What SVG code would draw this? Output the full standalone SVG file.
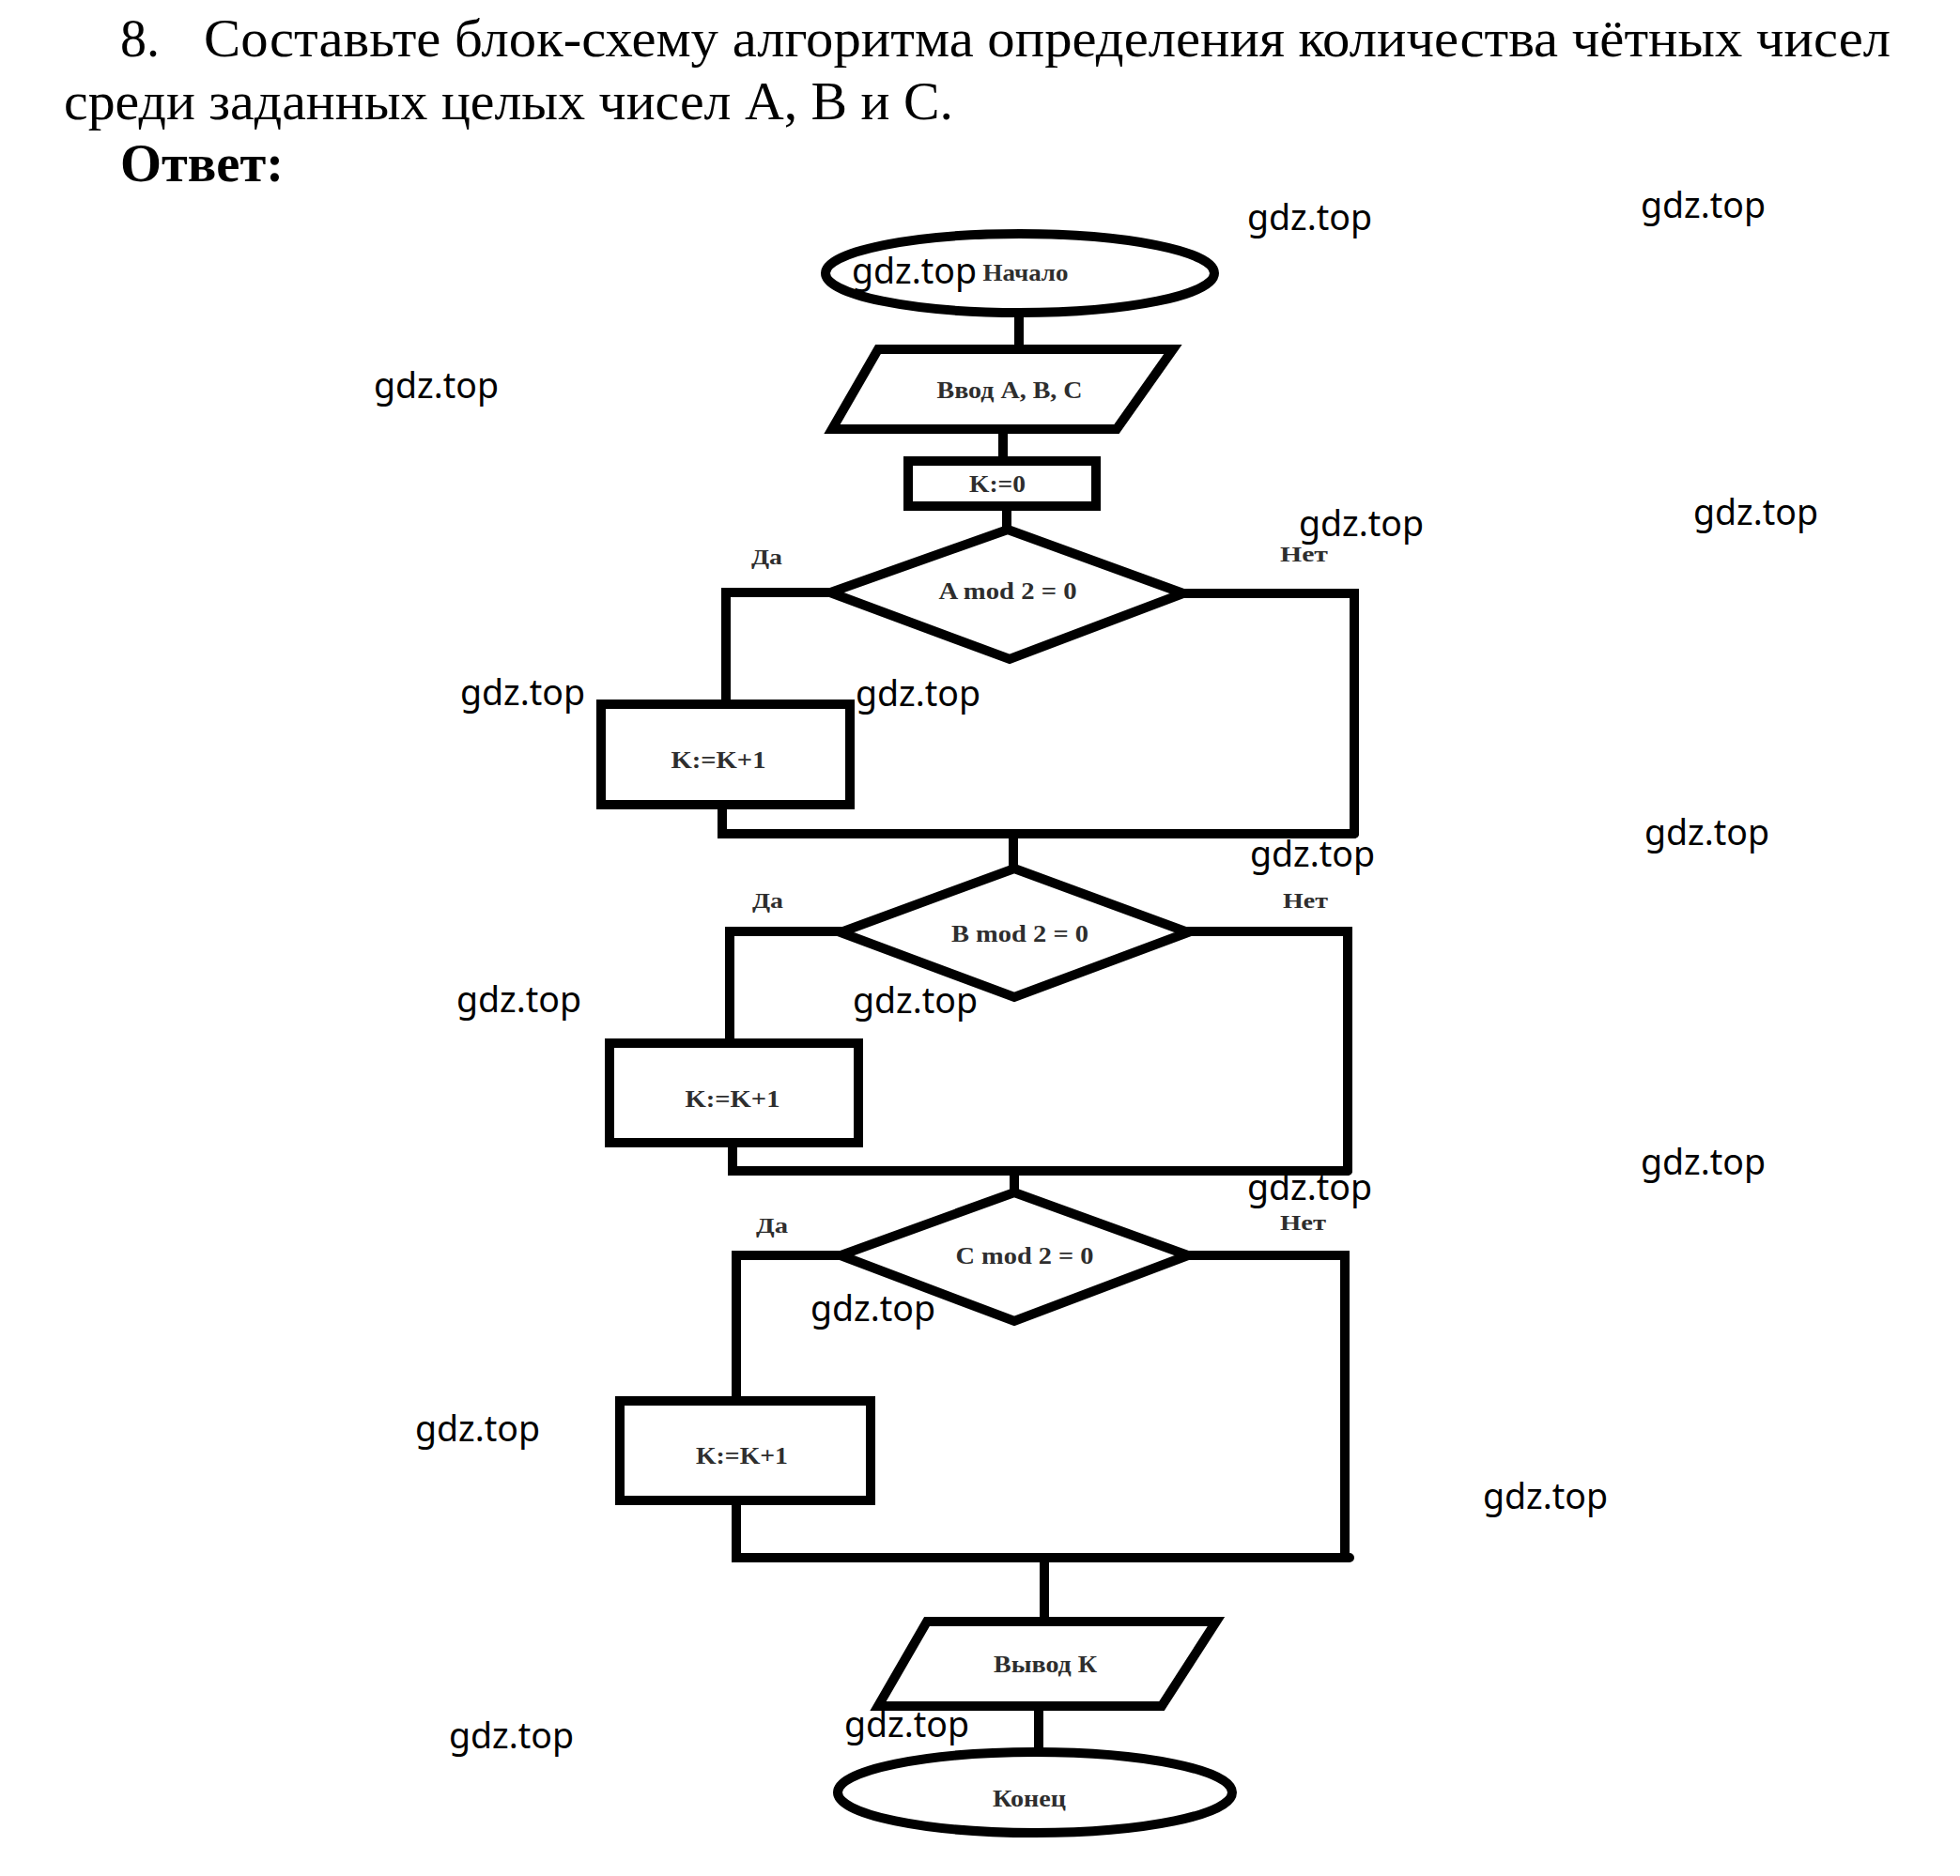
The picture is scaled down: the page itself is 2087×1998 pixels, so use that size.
<svg xmlns="http://www.w3.org/2000/svg" width="2087" height="1998" viewBox="0 0 2087 1998">
<style>
.bg{fill:#fff}
.title{font-family:"Liberation Serif","Times New Roman",serif;font-size:56px;fill:#000}
.titleb{font-family:"Liberation Serif","Times New Roman",serif;font-size:56px;font-weight:bold;fill:#000}
.shape{fill:none;stroke:#000;stroke-width:10;stroke-linejoin:miter}
.conn{fill:none;stroke:#000;stroke-width:10;stroke-linecap:round;stroke-linejoin:miter}
.lbl{font-family:"Liberation Serif","Times New Roman",serif;font-weight:bold;font-size:25px;fill:#2e2e2e;text-anchor:middle}
.yn{font-family:"Liberation Serif","Times New Roman",serif;font-weight:bold;font-size:23px;fill:#2e2e2e}
.wm{font-family:"Noto Sans","Open Sans",sans-serif;font-size:37.5px;fill:#000}
</style>
<rect class="bg" x="0" y="0" width="2087" height="1998"/>
<g id="heading">
<text class="title" x="128" y="60">8.</text>
<text class="title" x="217" y="60" textLength="1796" lengthAdjust="spacingAndGlyphs">Составьте блок-схему алгоритма определения количества чётных чисел</text>
<text class="title" x="68" y="127" textLength="947" lengthAdjust="spacingAndGlyphs">среди заданных целых чисел A, B и C.</text>
<text class="titleb" x="128" y="193" textLength="174" lengthAdjust="spacingAndGlyphs">Ответ:</text>
</g>
<g id="connectors">
<path class="conn" d="M1085 333 V371"/>
<path class="conn" d="M1068 457 V490"/>
<path class="conn" d="M1072 539 V564"/>
<path class="conn" d="M884 631 H773 V750"/>
<path class="conn" d="M769 857 V888 H1442"/>
<path class="conn" d="M1260 632 H1442 V888"/>
<path class="conn" d="M1079 888 V925"/>
<path class="conn" d="M895 992 H777 V1111"/>
<path class="conn" d="M780 1217 V1247 H1435"/>
<path class="conn" d="M1265 992 H1435 V1247"/>
<path class="conn" d="M1080 1247 V1270"/>
<path class="conn" d="M895 1337 H784 V1492"/>
<path class="conn" d="M784 1598 V1659 H1437"/>
<path class="conn" d="M1265 1337 H1432 V1659"/>
<path class="conn" d="M1112 1659 V1727"/>
<path class="conn" d="M1106 1817 V1863"/>
</g>
<g id="start">
<ellipse class="shape" cx="1086" cy="291" rx="207" ry="42"/>
<text class="lbl" x="1092" y="299" font-size="21" textLength="91" lengthAdjust="spacingAndGlyphs">Начало</text>
</g>
<g id="input">
<polygon class="shape" points="935,372 1249,372 1189,457 886,457"/>
<text class="lbl" x="1075" y="424" font-size="23" textLength="155" lengthAdjust="spacingAndGlyphs">Ввод A, B, C</text>
</g>
<g id="init">
<rect class="shape" x="967" y="491" width="200" height="48"/>
<text class="lbl" x="1062" y="524" font-size="23" textLength="60" lengthAdjust="spacingAndGlyphs">K:=0</text>
</g>
<g id="condA">
<polygon class="shape" points="1073,564 1260,632 1075,702 884,631"/>
<text class="lbl" x="1073" y="638" font-size="26" textLength="147" lengthAdjust="spacingAndGlyphs">A mod 2 = 0</text>
<text class="yn" x="800" y="601" textLength="33" lengthAdjust="spacingAndGlyphs">Да</text>
<text class="yn" x="1363" y="598" textLength="51" lengthAdjust="spacingAndGlyphs">Нет</text>
</g>
<g id="incA">
<rect class="shape" x="640" y="750" width="265" height="107"/>
<text class="lbl" x="765" y="818" textLength="101" lengthAdjust="spacingAndGlyphs">K:=K+1</text>
</g>
<g id="condB">
<polygon class="shape" points="1080,925 1265,993 1080,1062 895,993"/>
<text class="lbl" x="1086" y="1003" font-size="26" textLength="146" lengthAdjust="spacingAndGlyphs">B mod 2 = 0</text>
<text class="yn" x="801" y="967" textLength="33" lengthAdjust="spacingAndGlyphs">Да</text>
<text class="yn" x="1366" y="967" textLength="48" lengthAdjust="spacingAndGlyphs">Нет</text>
</g>
<g id="incB">
<rect class="shape" x="649" y="1111" width="265" height="106"/>
<text class="lbl" x="780" y="1179" textLength="101" lengthAdjust="spacingAndGlyphs">K:=K+1</text>
</g>
<g id="condC">
<polygon class="shape" points="1080,1270 1265,1337 1080,1407 895,1337"/>
<text class="lbl" x="1091" y="1346" font-size="26" textLength="147" lengthAdjust="spacingAndGlyphs">C mod 2 = 0</text>
<text class="yn" x="805" y="1313" textLength="34" lengthAdjust="spacingAndGlyphs">Да</text>
<text class="yn" x="1363" y="1310" textLength="49" lengthAdjust="spacingAndGlyphs">Нет</text>
</g>
<g id="incC">
<rect class="shape" x="660" y="1492" width="267" height="106"/>
<text class="lbl" x="790" y="1559" textLength="98" lengthAdjust="spacingAndGlyphs">K:=K+1</text>
</g>
<g id="output">
<polygon class="shape" points="987,1727 1295,1727 1237,1817 935,1817"/>
<text class="lbl" x="1113" y="1781" textLength="110" lengthAdjust="spacingAndGlyphs">Вывод К</text>
</g>
<g id="end">
<ellipse class="shape" cx="1102" cy="1909" rx="210" ry="43"/>
<text class="lbl" x="1096" y="1924" textLength="78" lengthAdjust="spacingAndGlyphs">Конец</text>
</g>
<g id="watermarks">
<text class="wm" x="1328" y="245">gdz.top</text>
<text class="wm" x="1747" y="232">gdz.top</text>
<text class="wm" x="907" y="302">gdz.top</text>
<text class="wm" x="398" y="424">gdz.top</text>
<text class="wm" x="1383" y="571">gdz.top</text>
<text class="wm" x="1803" y="559">gdz.top</text>
<text class="wm" x="490" y="751">gdz.top</text>
<text class="wm" x="911" y="752">gdz.top</text>
<text class="wm" x="1751" y="900">gdz.top</text>
<text class="wm" x="1331" y="923">gdz.top</text>
<text class="wm" x="486" y="1078">gdz.top</text>
<text class="wm" x="908" y="1079">gdz.top</text>
<text class="wm" x="1747" y="1251">gdz.top</text>
<text class="wm" x="1328" y="1278">gdz.top</text>
<text class="wm" x="863" y="1407">gdz.top</text>
<text class="wm" x="442" y="1535">gdz.top</text>
<text class="wm" x="1579" y="1607">gdz.top</text>
<text class="wm" x="478" y="1862">gdz.top</text>
<text class="wm" x="899" y="1850">gdz.top</text>
</g>
</svg>
